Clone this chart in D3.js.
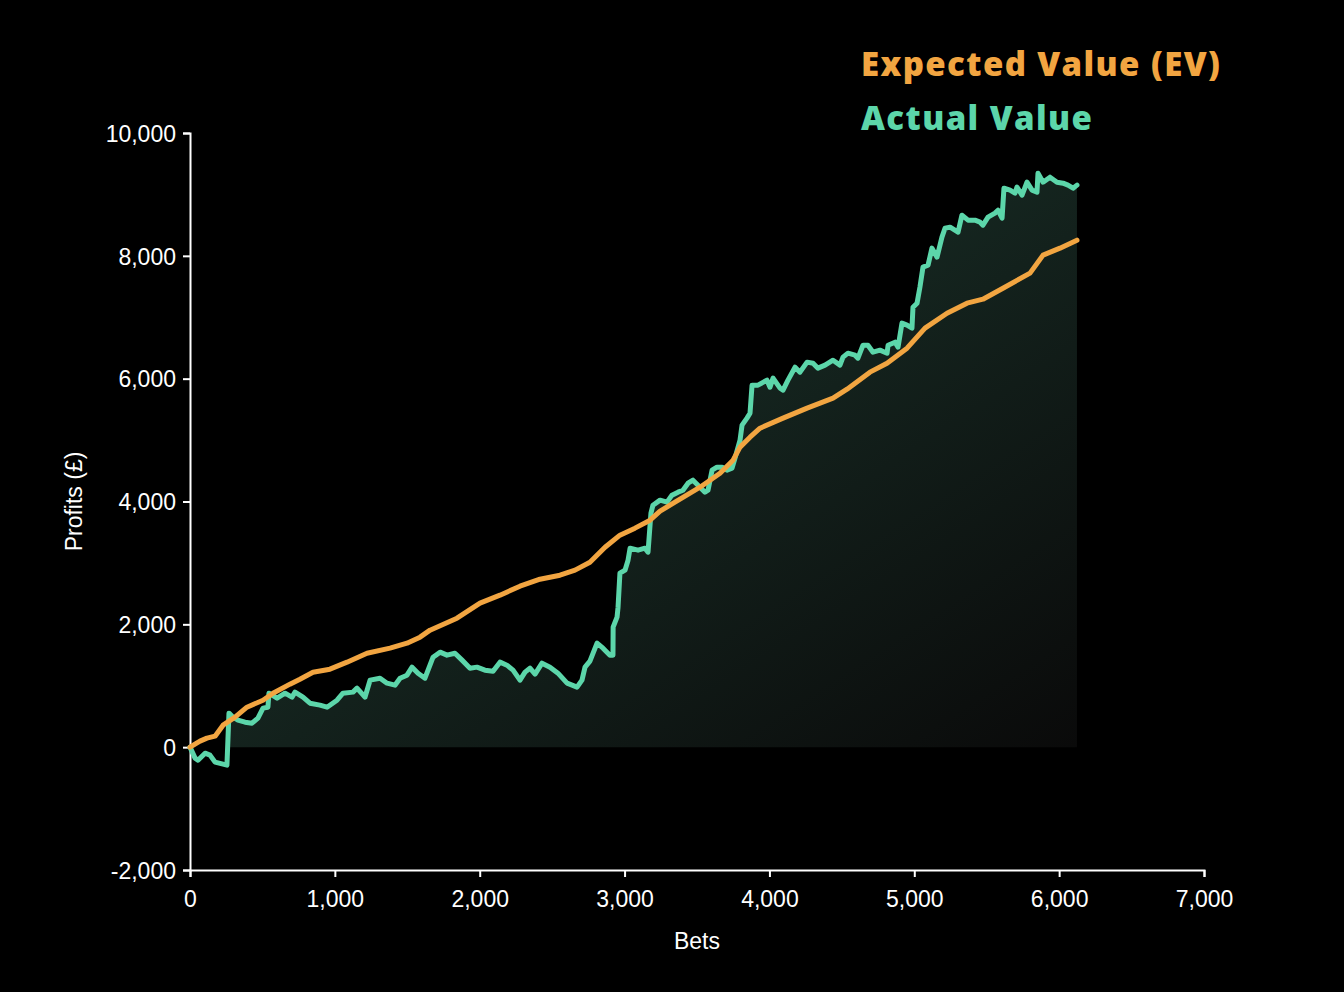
<!DOCTYPE html>
<html>
<head>
<meta charset="utf-8">
<script src="https://cdn.jsdelivr.net/npm/d3@7"></script>
<style>
  html, body { margin: 0; padding: 0; background: #000; }
  svg { display: block; }
</style>
</head>
<body>
<svg id="chart"></svg>
<script>
// expected value (EV) curve: bets, profit (£)
const evBets = [0, 69, 117, 173, 228, 311, 393, 504, 573, 690, 759, 849, 966, 1084, 1222, 1381, 1498, 1588, 1657, 1843,
  2002, 2140, 2278, 2416, 2554, 2658, 2761, 2865, 2968, 3072, 3176, 3245, 3348, 3452, 3521, 3659, 3749, 3797, 3866, 3935,
  4094, 4260, 4439, 4536, 4694, 4812, 4950, 5074, 5226, 5364, 5474, 5612, 5799, 5889, 6006, 6123];
const evProfit = [0, 98, 147, 179, 358, 488, 651, 765, 879, 1026, 1107, 1221, 1270, 1384, 1530, 1612, 1693, 1791, 1905, 2100,
  2345, 2475, 2621, 2735, 2800, 2882, 3012, 3256, 3452, 3566, 3696, 3843, 3989, 4136, 4233, 4461, 4673, 4885, 5047, 5194,
  5357, 5520, 5682, 5829, 6106, 6252, 6497, 6822, 7066, 7229, 7294, 7473, 7718, 8011, 8125, 8255];

// actual value curve
const actBets = [0, 35, 55, 104, 138, 173, 228, 255, 269, 297, 331, 380, 428, 469, 504, 538, 545, 601, 656, 704,
  725, 780, 828, 897, 946, 1015, 1056, 1125, 1153, 1208, 1243, 1312, 1360, 1415, 1450, 1498, 1533, 1574, 1622, 1678,
  1726, 1774, 1829, 1878, 1933, 1981, 2036, 2092, 2140, 2188, 2230, 2278, 2313, 2347, 2382, 2430, 2485, 2540, 2603, 2672,
  2706, 2727, 2761, 2810, 2851, 2899, 2920, 2921, 2948, 2955, 2968, 3003, 3024, 3038, 3093, 3141, 3162, 3182, 3196, 3245,
  3293, 3327, 3369, 3403, 3438, 3472, 3507, 3555, 3576, 3604, 3638, 3673, 3707, 3742, 3762, 3797, 3811, 3845, 3866, 3880,
  3921, 3983, 4004, 4025, 4073, 4094, 4128, 4177, 4211, 4260, 4301, 4335, 4384, 4439, 4487, 4508, 4542, 4591, 4611, 4646,
  4680, 4715, 4763, 4812, 4819, 4867, 4888, 4915, 4950, 4984, 4991, 5019, 5039, 5060, 5095, 5122, 5157, 5191, 5212, 5247,
  5302, 5329, 5371, 5419, 5454, 5474, 5509, 5557, 5578, 5606, 5619, 5661, 5695, 5709, 5744, 5778, 5813, 5847, 5854, 5889,
  5937, 5985, 6027, 6061, 6096, 6123];
const actProfit = [0, -179, -212, -98, -130, -244, -277, -293, 554, 488, 440, 407, 391, 472, 635, 651, 879, 798, 879, 814,
  896, 814, 716, 684, 651, 765, 879, 896, 961, 814, 1091, 1123, 1042, 1009, 1123, 1172, 1303, 1205, 1123, 1465,
  1547, 1498, 1530, 1417, 1286, 1303, 1254, 1237, 1384, 1335, 1254, 1091, 1221, 1286, 1189, 1368, 1303, 1205, 1042, 977,
  1091, 1303, 1400, 1693, 1612, 1498, 1498, 1954, 2117, 2280, 2833, 2882, 3045, 3240, 3208, 3240, 3175, 3810, 3940, 4022,
  3989, 4103, 4152, 4184, 4298, 4347, 4266, 4152, 4184, 4510, 4559, 4559, 4510, 4543, 4705, 4999, 5243, 5357, 5438, 5894,
  5894, 5976, 5862, 6008, 5845, 5813, 5976, 6187, 6106, 6269, 6252, 6171, 6220, 6301, 6220, 6350, 6415, 6383, 6334, 6545,
  6545, 6431, 6464, 6415, 6545, 6594, 6513, 6904, 6871, 6822, 7164, 7229, 7490, 7815, 7848, 8125, 7978, 8304, 8450, 8467,
  8385, 8662, 8581, 8581, 8548, 8499, 8629, 8695, 8743, 8613, 9102, 9069, 9020, 9118, 8988, 9199, 9069, 9036, 9346, 9199,
  9281, 9199, 9183, 9151, 9102, 9151];

const xTicks = [0, 1000, 2000, 3000, 4000, 5000, 6000, 7000];
const yTicks = [-2000, 0, 2000, 4000, 6000, 8000, 10000];
const legendLabels = ["Expected Value (EV)", "Actual Value"];

const width = 1344, height = 992;
const margin = { top: 133, right: 140, bottom: 122, left: 190 };
const green = "#5cd6aa", orange = "#f2a541";

const ev = evBets.map((b, i) => ({ bets: b, value: evProfit[i] }));
const actual = actBets.map((b, i) => ({ bets: b, value: actProfit[i] }));

const svg = d3.select("#chart")
  .attr("width", width)
  .attr("height", height)
  .style("background", "#000");

const x = d3.scaleLinear().domain([0, 7000]).range([margin.left, width - margin.right]);
const y = d3.scaleLinear().domain([-2000, 10000]).range([height - margin.bottom, margin.top]);

// plain hyphen for negatives, like the original
const fmt = d => d3.format(",")(d).replace("\u2212", "-");

// gradient under the actual line
const defs = svg.append("defs");
const grad = defs.append("linearGradient")
  .attr("id", "areaFill")
  .attr("x1", 0).attr("y1", 0).attr("x2", 1).attr("y2", 1);
grad.append("stop").attr("offset", "0%").attr("stop-color", "#1e3d32");
grad.append("stop").attr("offset", "100%").attr("stop-color", "#0a0a0a");

const area = d3.area()
  .x(d => x(d.bets))
  .y0(y(0))
  .y1(d => y(Math.max(0, d.value)));

svg.append("path")
  .datum(actual)
  .attr("fill", "url(#areaFill)")
  .attr("d", area);

// axes
const xAxis = svg.append("g")
  .attr("transform", `translate(0,${y(-2000)})`)
  .call(d3.axisBottom(x).tickValues(xTicks).tickSizeOuter(0).tickSize(7).tickPadding(14)
    .tickFormat(fmt));

const yAxis = svg.append("g")
  .attr("transform", `translate(${x(0)},0)`)
  .call(d3.axisLeft(y).tickValues(yTicks).tickSizeOuter(0).tickSize(7).tickPadding(7)
    .tickFormat(fmt));

[xAxis, yAxis].forEach(g => {
  g.select(".domain").attr("stroke", "#fff").attr("stroke-width", 2);
  g.selectAll(".tick line").attr("stroke", "#fff").attr("stroke-width", 2);
  g.selectAll(".tick text")
    .attr("fill", "#fff")
    .style("font-family", "'Liberation Sans', Arial, sans-serif")
    .style("font-size", "23px");
});
yAxis.selectAll(".tick text").attr("dy", "0.36em");

svg.append("text")
  .attr("x", x(3500))
  .attr("y", 949)
  .attr("text-anchor", "middle")
  .attr("fill", "#fff")
  .style("font-family", "'Liberation Sans', Arial, sans-serif")
  .style("font-size", "23px")
  .text("Bets");

svg.append("text")
  .attr("transform", `translate(82,${y(4000)}) rotate(-90)`)
  .attr("text-anchor", "middle")
  .attr("fill", "#fff")
  .style("font-family", "'Liberation Sans', Arial, sans-serif")
  .style("font-size", "23px")
  .text("Profits (£)");

// lines
const line = d3.line()
  .x(d => x(d.bets))
  .y(d => y(d.value));

svg.append("path")
  .datum(actual)
  .attr("fill", "none")
  .attr("stroke", green)
  .attr("stroke-width", 5)
  .attr("stroke-linejoin", "round")
  .attr("stroke-linecap", "round")
  .attr("d", line);

svg.append("path")
  .datum(ev)
  .attr("fill", "none")
  .attr("stroke", orange)
  .attr("stroke-width", 5)
  .attr("stroke-linejoin", "round")
  .attr("stroke-linecap", "round")
  .attr("d", line);

// legend
svg.append("g")
  .selectAll("text")
  .data(legendLabels)
  .join("text")
  .attr("x", 861)
  .attr("y", (d, i) => 76 + i * 54)
  .attr("fill", (d, i) => i === 0 ? orange : green)
  .style("font-family", "'Open Sans', sans-serif")
  .style("font-weight", 800)
  .style("font-size", "33px")
  .style("letter-spacing", "1.4px")
  .text(d => d);
</script>
</body>
</html>
